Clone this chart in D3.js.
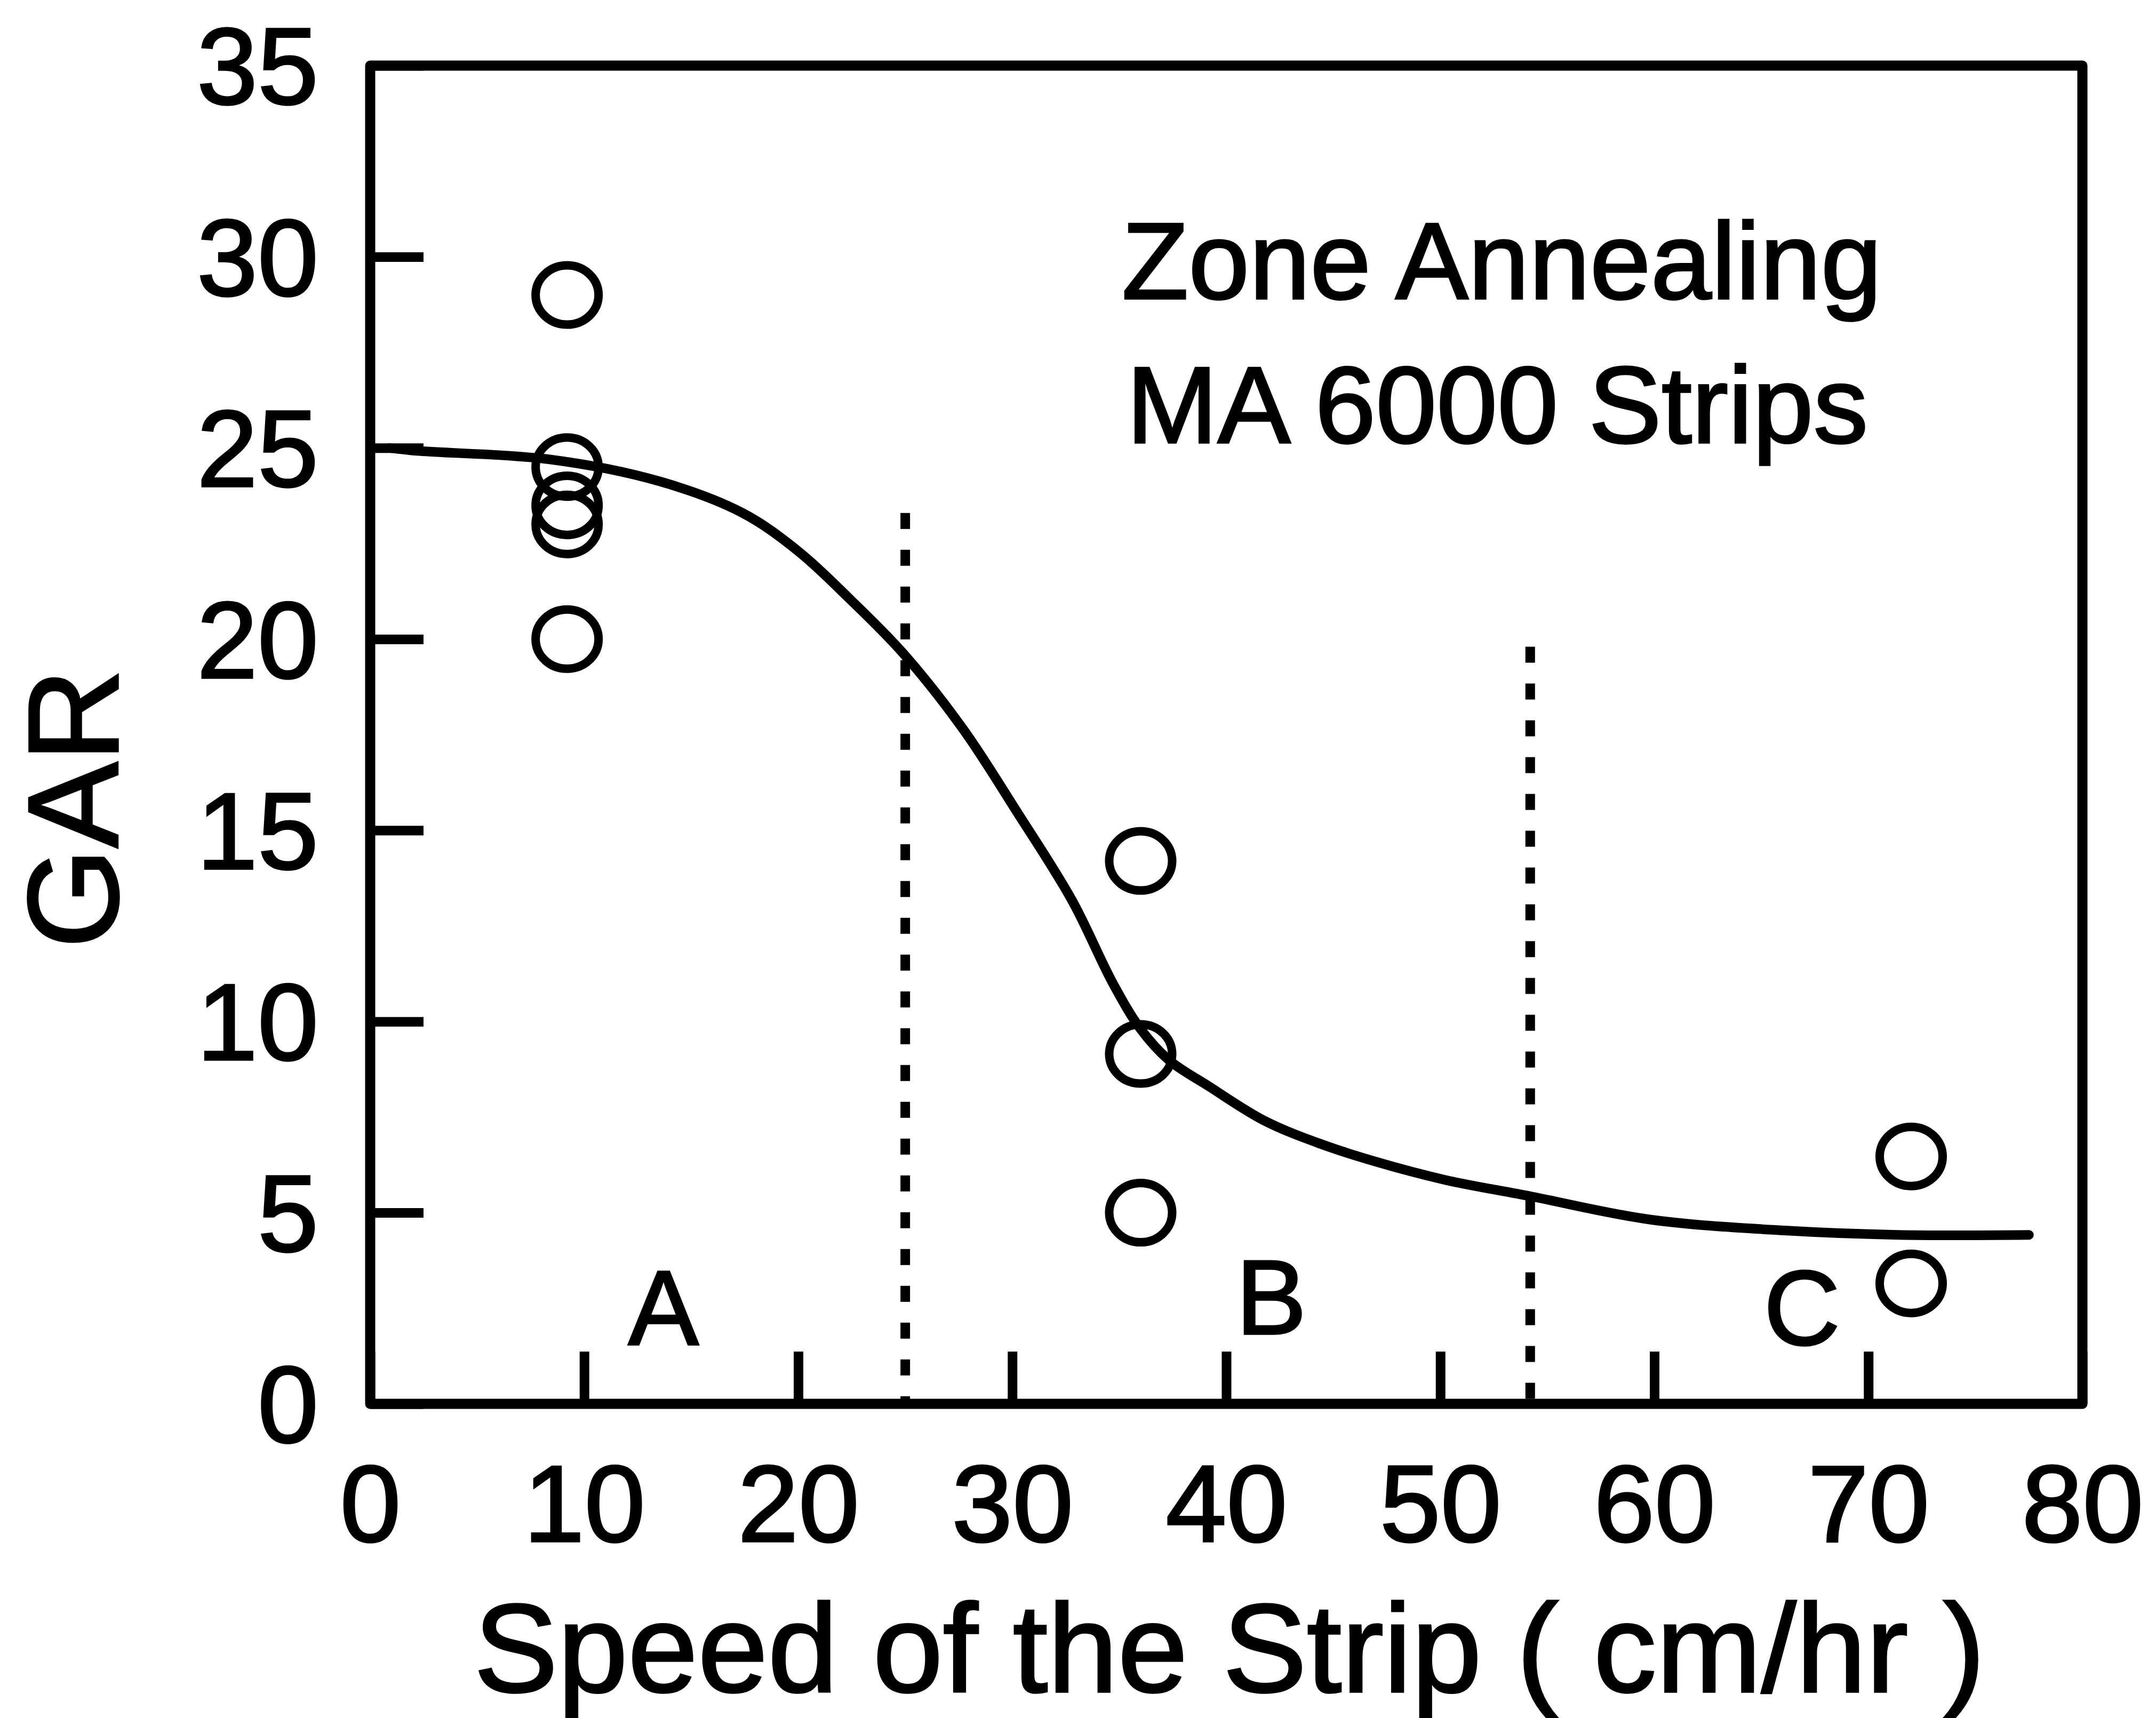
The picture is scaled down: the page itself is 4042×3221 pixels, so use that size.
<!DOCTYPE html>
<html><head><meta charset="utf-8">
<script src="https://cdn.jsdelivr.net/npm/d3@7"></script>
<style>
html,body{margin:0;padding:0;background:#fff;}
svg{display:block;}
text{font-family:"Liberation Sans",Arial,Helvetica,sans-serif;fill:#000;stroke:#000;stroke-width:3.5px;}
</style>
</head><body>
<svg id="c" width="4042" height="3221"></svg>
<script>
// ---- data ----
const xTicks = [0, 10, 20, 30, 40, 50, 60, 70, 80];
const yTicks = [0, 5, 10, 15, 20, 25, 30, 35];
const pointSpeed = [9.2, 9.2, 9.2, 9.2, 9.2, 36, 36, 36, 72, 72];
const pointGAR   = [29.0, 24.5, 23.5, 23.0, 20.0, 14.2, 9.15, 5.0, 6.47, 3.15];
const fitSpeed = [0.9, 2.3, 8.4, 13.5, 17.4, 20.0, 22.5, 24.9, 27.7, 30.2, 32.8, 34.7, 36.0, 37.3, 39.2, 41.8, 44.4, 47.0, 50.2, 54.2, 59.8, 66.2, 71.4, 77.5];
const fitGAR   = [25.0, 24.92, 24.7, 24.13, 23.3, 22.3, 21.0, 19.63, 17.65, 15.5, 13.16, 11.0, 9.8, 9.0, 8.3, 7.4, 6.8, 6.33, 5.86, 5.43, 4.82, 4.53, 4.42, 4.42];
const boundarySpeed = [25, 54.2];
const boundaryTop   = [23.3, 19.8];
const zoneLabels = ["A", "B", "C"];
const zoneX = [13.7, 42.1, 66.9];
const zoneY = [1.55, 1.83, 1.55];
const noteLines = ["Zone Annealing", "MA 6000 Strips"];
const xTitle = "Speed of the Strip ( cm/hr )";
const yTitle = "GAR";

// ---- layout ----
const W = 4042, H = 3221;
const m = {left: 694, right: 3904, top: 123, bottom: 2632};
const x = d3.scaleLinear().domain([0, 80]).range([m.left, m.right]);
const y = d3.scaleLinear().domain([0, 35]).range([m.bottom, m.top]);

const svg = d3.select('#c');
svg.append('rect').attr('width', W).attr('height', H).attr('fill', '#fff');

// x axis
const gx = svg.append('g').attr('transform', `translate(0,${m.bottom})`)
  .call(d3.axisBottom(x).tickValues(xTicks).tickSize(-98).tickFormat(d3.format('d')));
gx.select('.domain').remove();
gx.selectAll('.tick line').attr('stroke', '#000').attr('stroke-width', 18);
gx.selectAll('.tick text').attr('y', 258).attr('dy', 0)
  .style('font-size', '205px').attr('fill', '#000');

// y axis
const gy = svg.append('g').attr('transform', `translate(${m.left},0)`)
  .call(d3.axisLeft(y).tickValues(yTicks).tickSize(-100).tickFormat(d3.format('d')));
gy.select('.domain').remove();
gy.selectAll('.tick line').attr('stroke', '#000').attr('stroke-width', 18);
gy.selectAll('.tick text').attr('x', -97).attr('dy', '0.35em')
  .style('font-size', '205px').attr('fill', '#000');

// frame
svg.append('rect')
  .attr('x', m.left).attr('y', m.top)
  .attr('width', m.right - m.left).attr('height', m.bottom - m.top)
  .attr('fill', 'none').attr('stroke', '#000').attr('stroke-width', 19)
  .attr('stroke-linejoin', 'round');

// boundaries
svg.selectAll('line.bound').data(boundarySpeed).enter().append('line')
  .attr('class', 'bound')
  .attr('x1', d => x(d)).attr('x2', d => x(d))
  .attr('y1', (d, i) => y(boundaryTop[i])).attr('y2', y(0))
  .attr('stroke', '#000').attr('stroke-width', 18)
  .attr('stroke-dasharray', '30,39');

// fitted curve
const fit = fitSpeed.map((s, i) => [s, fitGAR[i]]);
svg.append('path').datum(fit)
  .attr('d', d3.line().x(d => x(d[0])).y(d => y(d[1])).curve(d3.curveCatmullRom.alpha(0.5)))
  .attr('fill', 'none').attr('stroke', '#000').attr('stroke-width', 18)
  .attr('stroke-linecap', 'round').attr('stroke-linejoin', 'round');

// points
svg.selectAll('ellipse.pt').data(pointSpeed).enter().append('ellipse')
  .attr('class', 'pt')
  .attr('cx', d => x(d)).attr('cy', (d, i) => y(pointGAR[i]))
  .attr('rx', 59).attr('ry', 55.5)
  .attr('fill', 'none').attr('stroke', '#000').attr('stroke-width', 16);

// zone labels
svg.selectAll('text.zone').data(zoneLabels).enter().append('text')
  .attr('class', 'zone')
  .attr('x', (d, i) => x(zoneX[i])).attr('y', (d, i) => y(zoneY[i]))
  .attr('text-anchor', 'middle').style('font-size', '198px').text(d => d);

// annotation
svg.selectAll('text.note').data(noteLines).enter().append('text')
  .attr('class', 'note')
  .attr('x', (d, i) => i === 0 ? 2103 : 2112)
  .attr('y', (d, i) => i === 0 ? 560 : 830)
  .style('font-size', '205px').text(d => d);

// axis titles
svg.append('text').attr('x', (m.left + m.right) / 2 + 6).attr('y', 3172)
  .attr('text-anchor', 'middle').style('font-size', '236px').text(xTitle);
svg.append('text').attr('transform', 'translate(221,1516) rotate(-90)')
  .attr('text-anchor', 'middle').style('font-size', '242px').text(yTitle);
</script>
</body></html>
